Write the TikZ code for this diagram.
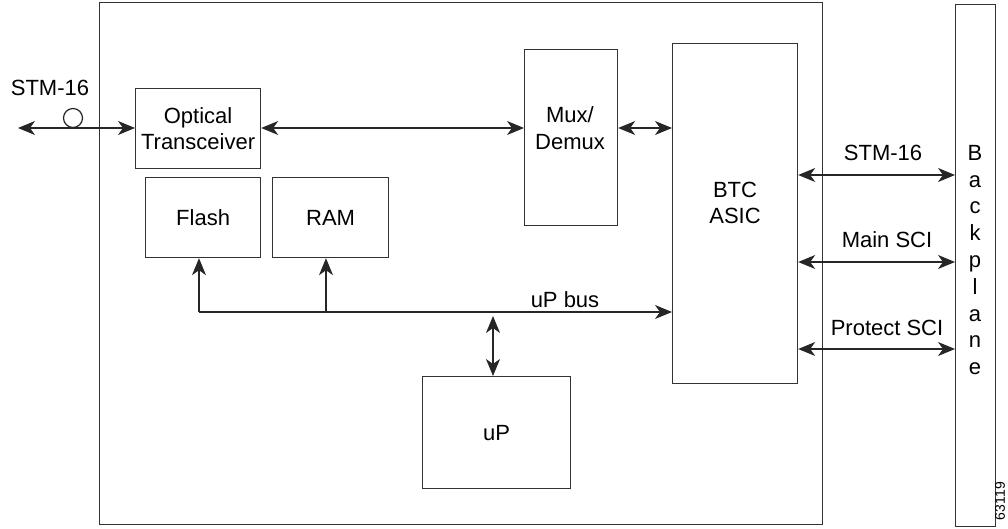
\documentclass[tikz,border=0pt]{standalone}
\usepackage{fontspec}
\setmainfont{Liberation Sans}
\usetikzlibrary{arrows.meta,calc}
\begin{document}
\begin{tikzpicture}[x=1pt,y=-1pt,
  every node/.style={font=\fontsize{22}{26.5}\selectfont, inner sep=0pt},
  blk/.style={draw=black!80, line width=1.2pt, anchor=north west},
  lbl/.style={align=center},
  conn/.style={draw=black!85, line width=1.2pt},
  tip/.style={-{Stealth[length=17pt,width=14pt,inset=5pt]}},
  dtip/.style={{Stealth[length=17pt,width=14pt,inset=5pt]}-{Stealth[length=17pt,width=14pt,inset=5pt]}}
]
\useasboundingbox (0,0) rectangle (1008,529);
% card and backplane
\node[blk, minimum width=723pt, minimum height=522pt] (card) at (99,2) {};
\node[blk, minimum width=40pt, minimum height=522pt] (bp) at (955,4) {};
% blocks
\node[blk, minimum width=125pt, minimum height=80pt, align=center] (ot) at (135,88) {};
\node[lbl] (otl) at (ot.center) {Optical\\Transceiver};
\node[blk, minimum width=115pt, minimum height=80pt] (flash) at (145,177) {};
\node (flashl) at (flash.center) {Flash};
\node[blk, minimum width=116pt, minimum height=80pt] (ram) at (272,177) {};
\node (raml) at (ram.center) {RAM};
\node[blk, minimum width=93pt, minimum height=176pt] (mux) at (524,49) {};
\node[lbl] (muxl) at (570,128) {Mux/\\Demux};
\node[blk, minimum width=125pt, minimum height=340pt] (btc) at (672,43) {};
\node[lbl] (btcl) at (735,203) {BTC\\ASIC};
\node[blk, minimum width=148pt, minimum height=112pt] (up) at (422,376) {};
\node (upl) at (up.center) {uP};
% left STM-16
\coordinate (ext) at (18,128);
\node (stml) at (50,88) {STM-16};
\node[draw=black!85, line width=1.2pt, circle, minimum size=19pt] (conn) at (73,118) {};
\draw[conn,dtip] (ext) -- (ext -| ot.west);
\draw[conn,dtip] (ot.east |- ext) -- (mux.west |- ext);
\draw[conn,dtip] (mux.east |- ext) -- (btc.west |- ext);
% right links
\coordinate (r1) at (0,175);
\coordinate (r2) at (0,262);
\coordinate (r3) at (0,349);
\draw[conn,dtip] (btc.east |- r1) -- (bp.west |- r1);
\draw[conn,dtip] (btc.east |- r2) -- (bp.west |- r2);
\draw[conn,dtip] (btc.east |- r3) -- (bp.west |- r3);
\node (rl1) at (883,153) {STM-16};
\node (rl2) at (887,240) {Main SCI};
\node (rl3) at (887,328) {Protect SCI};
% uP bus
\coordinate (busL) at (199,312);
\coordinate (busR) at (326,312);
\coordinate (busU) at (493,316);
\draw[conn,tip] (busL) -- (btc.west |- busL);
\draw[conn,tip] (busL) -- (busL |- flash.south);
\draw[conn,tip] (busR) -- (busR |- ram.south);
\draw[conn,dtip] (busU) -- (busU |- up.north);
\node (busl) at (565,300) {uP bus};
% backplane label
\node[lbl, font=\fontsize{22}{26.8}\selectfont] (bpl) at (975,260) {B\\a\\c\\k\\p\\l\\a\\n\\e};
\node[rotate=90, anchor=east, font=\fontsize{14}{16}\selectfont] (num) at (1000,482) {63119};
\end{tikzpicture}
\end{document}
